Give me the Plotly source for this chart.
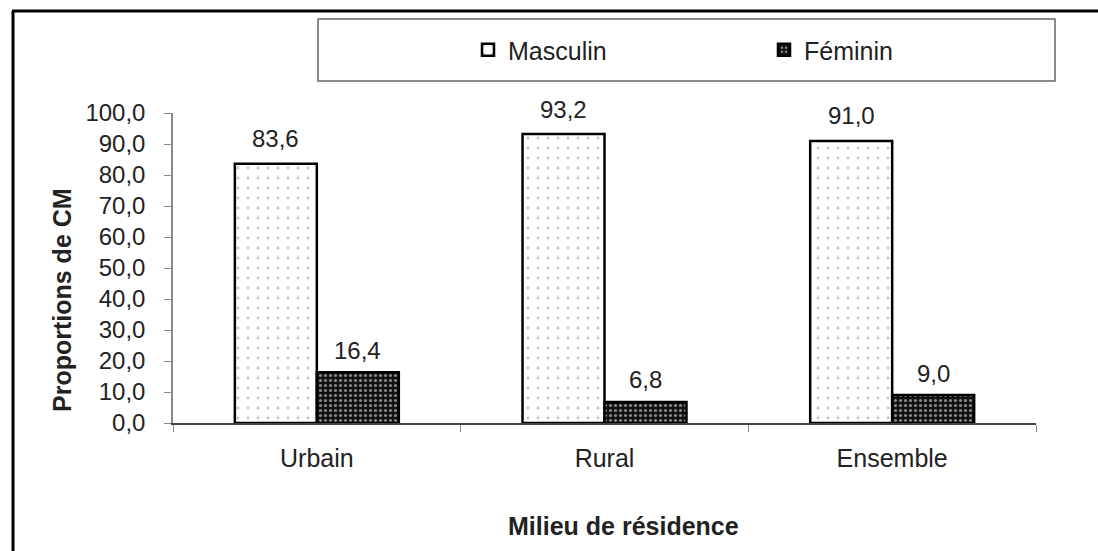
import plotly.graph_objects as go

# Data: share of household heads (CM) by sex and area of residence
milieux = ["Urbain", "Rural", "Ensemble"]
masculin = [83.6, 93.2, 91.0]
feminin = [16.4, 6.8, 9.0]
y_ticks = [0, 10, 20, 30, 40, 50, 60, 70, 80, 90, 100]

FONT = "Liberation Sans, Arial, sans-serif"
TXT = "#222222"

# Plot-area geometry in pixels (used to place decorations in paper coords)
W, H = 1098, 551
L, R, T, B = 173, 62, 113, 128
PW, PH = W - L - R, H - T - B


def px_x(p):
    return (p - L) / PW


def px_y(p):
    return (H - B - p) / PH


fig = go.Figure()
fig.add_trace(go.Bar(
    name="Masculin", x=milieux, y=masculin,
    marker=dict(color="white", line=dict(color="black", width=2.5),
                pattern=dict(shape=".", bgcolor="white", fgcolor="#8a8a8a",
                             size=10, solidity=0.06)),
))
fig.add_trace(go.Bar(
    name="Féminin", x=milieux, y=feminin,
    marker=dict(color="black", line=dict(color="black", width=2.5),
                pattern=dict(shape=".", bgcolor="#111111", fgcolor="white",
                             size=5, solidity=0.3)),
))

# Value labels above each bar
annotations = []
for cat, v in zip(milieux, masculin):
    annotations.append(dict(x=cat, y=v, xref="x", yref="y", xshift=-41, yshift=25,
                            text=f"{v:.1f}".replace(".", ","), showarrow=False,
                            font=dict(family=FONT, size=24, color=TXT)))
for cat, v in zip(milieux, feminin):
    annotations.append(dict(x=cat, y=v, xref="x", yref="y", xshift=41, yshift=22,
                            text=f"{v:.1f}".replace(".", ","), showarrow=False,
                            font=dict(family=FONT, size=24, color=TXT)))

# Axis titles, centred on the whole chart area
annotations.append(dict(x=px_x(623), y=px_y(526), xref="paper", yref="paper",
                        text="<b>Milieu de résidence</b>", showarrow=False,
                        xanchor="center", yanchor="middle",
                        font=dict(family=FONT, size=25, color=TXT)))
annotations.append(dict(x=px_x(62), y=px_y(300), xref="paper", yref="paper",
                        text="<b>Proportions de CM</b>", showarrow=False,
                        textangle=-90, xanchor="center", yanchor="middle",
                        font=dict(family=FONT, size=25, color=TXT)))

shapes = [
    # outer frame (left and top edges)
    dict(type="line", xref="paper", yref="paper",
         x0=px_x(13), y0=px_y(H + 5), x1=px_x(13), y1=px_y(11),
         line=dict(color="black", width=3)),
    dict(type="line", xref="paper", yref="paper",
         x0=px_x(12), y0=px_y(11), x1=px_x(W + 5), y1=px_y(11),
         line=dict(color="black", width=3)),
    # legend box
    dict(type="rect", xref="paper", yref="paper",
         x0=px_x(318), y0=px_y(81), x1=px_x(1055), y1=px_y(19),
         line=dict(color="#666", width=1.5), fillcolor="rgba(0,0,0,0)"),
]

fig.update_layout(
    width=W, height=H,
    margin=dict(l=L, r=R, t=T, b=B),
    paper_bgcolor="white", plot_bgcolor="white",
    separators=", ",
    barmode="group", bargap=0.43, bargroupgap=0,
    font=dict(family=FONT, size=25, color=TXT),
    showlegend=True,
    legend=dict(orientation="h", x=px_x(468), y=px_y(50), xanchor="left",
                yanchor="middle", bgcolor="rgba(0,0,0,0)", borderwidth=0,
                font=dict(family=FONT, size=25, color=TXT),
                itemwidth=30, entrywidth=251, entrywidthmode="pixels"),
    annotations=annotations,
    shapes=shapes,
)

fig.update_xaxes(
    type="category", showline=True, linecolor="#444", linewidth=1.5,
    ticks="outside", tickson="boundaries", ticklen=7, tickcolor="#888",
    tickfont=dict(family=FONT, size=25, color=TXT), ticklabelstandoff=12,
    showgrid=False,
)
fig.update_yaxes(
    range=[0, 100], tickvals=y_ticks, tickformat=".1f",
    showline=True, linecolor="#888", linewidth=1.5,
    ticks="outside", ticklen=7, tickcolor="#888",
    tickfont=dict(family=FONT, size=24, color=TXT), ticklabelstandoff=14,
    showgrid=False, zeroline=False,
)

fig.write_html("out.html")
